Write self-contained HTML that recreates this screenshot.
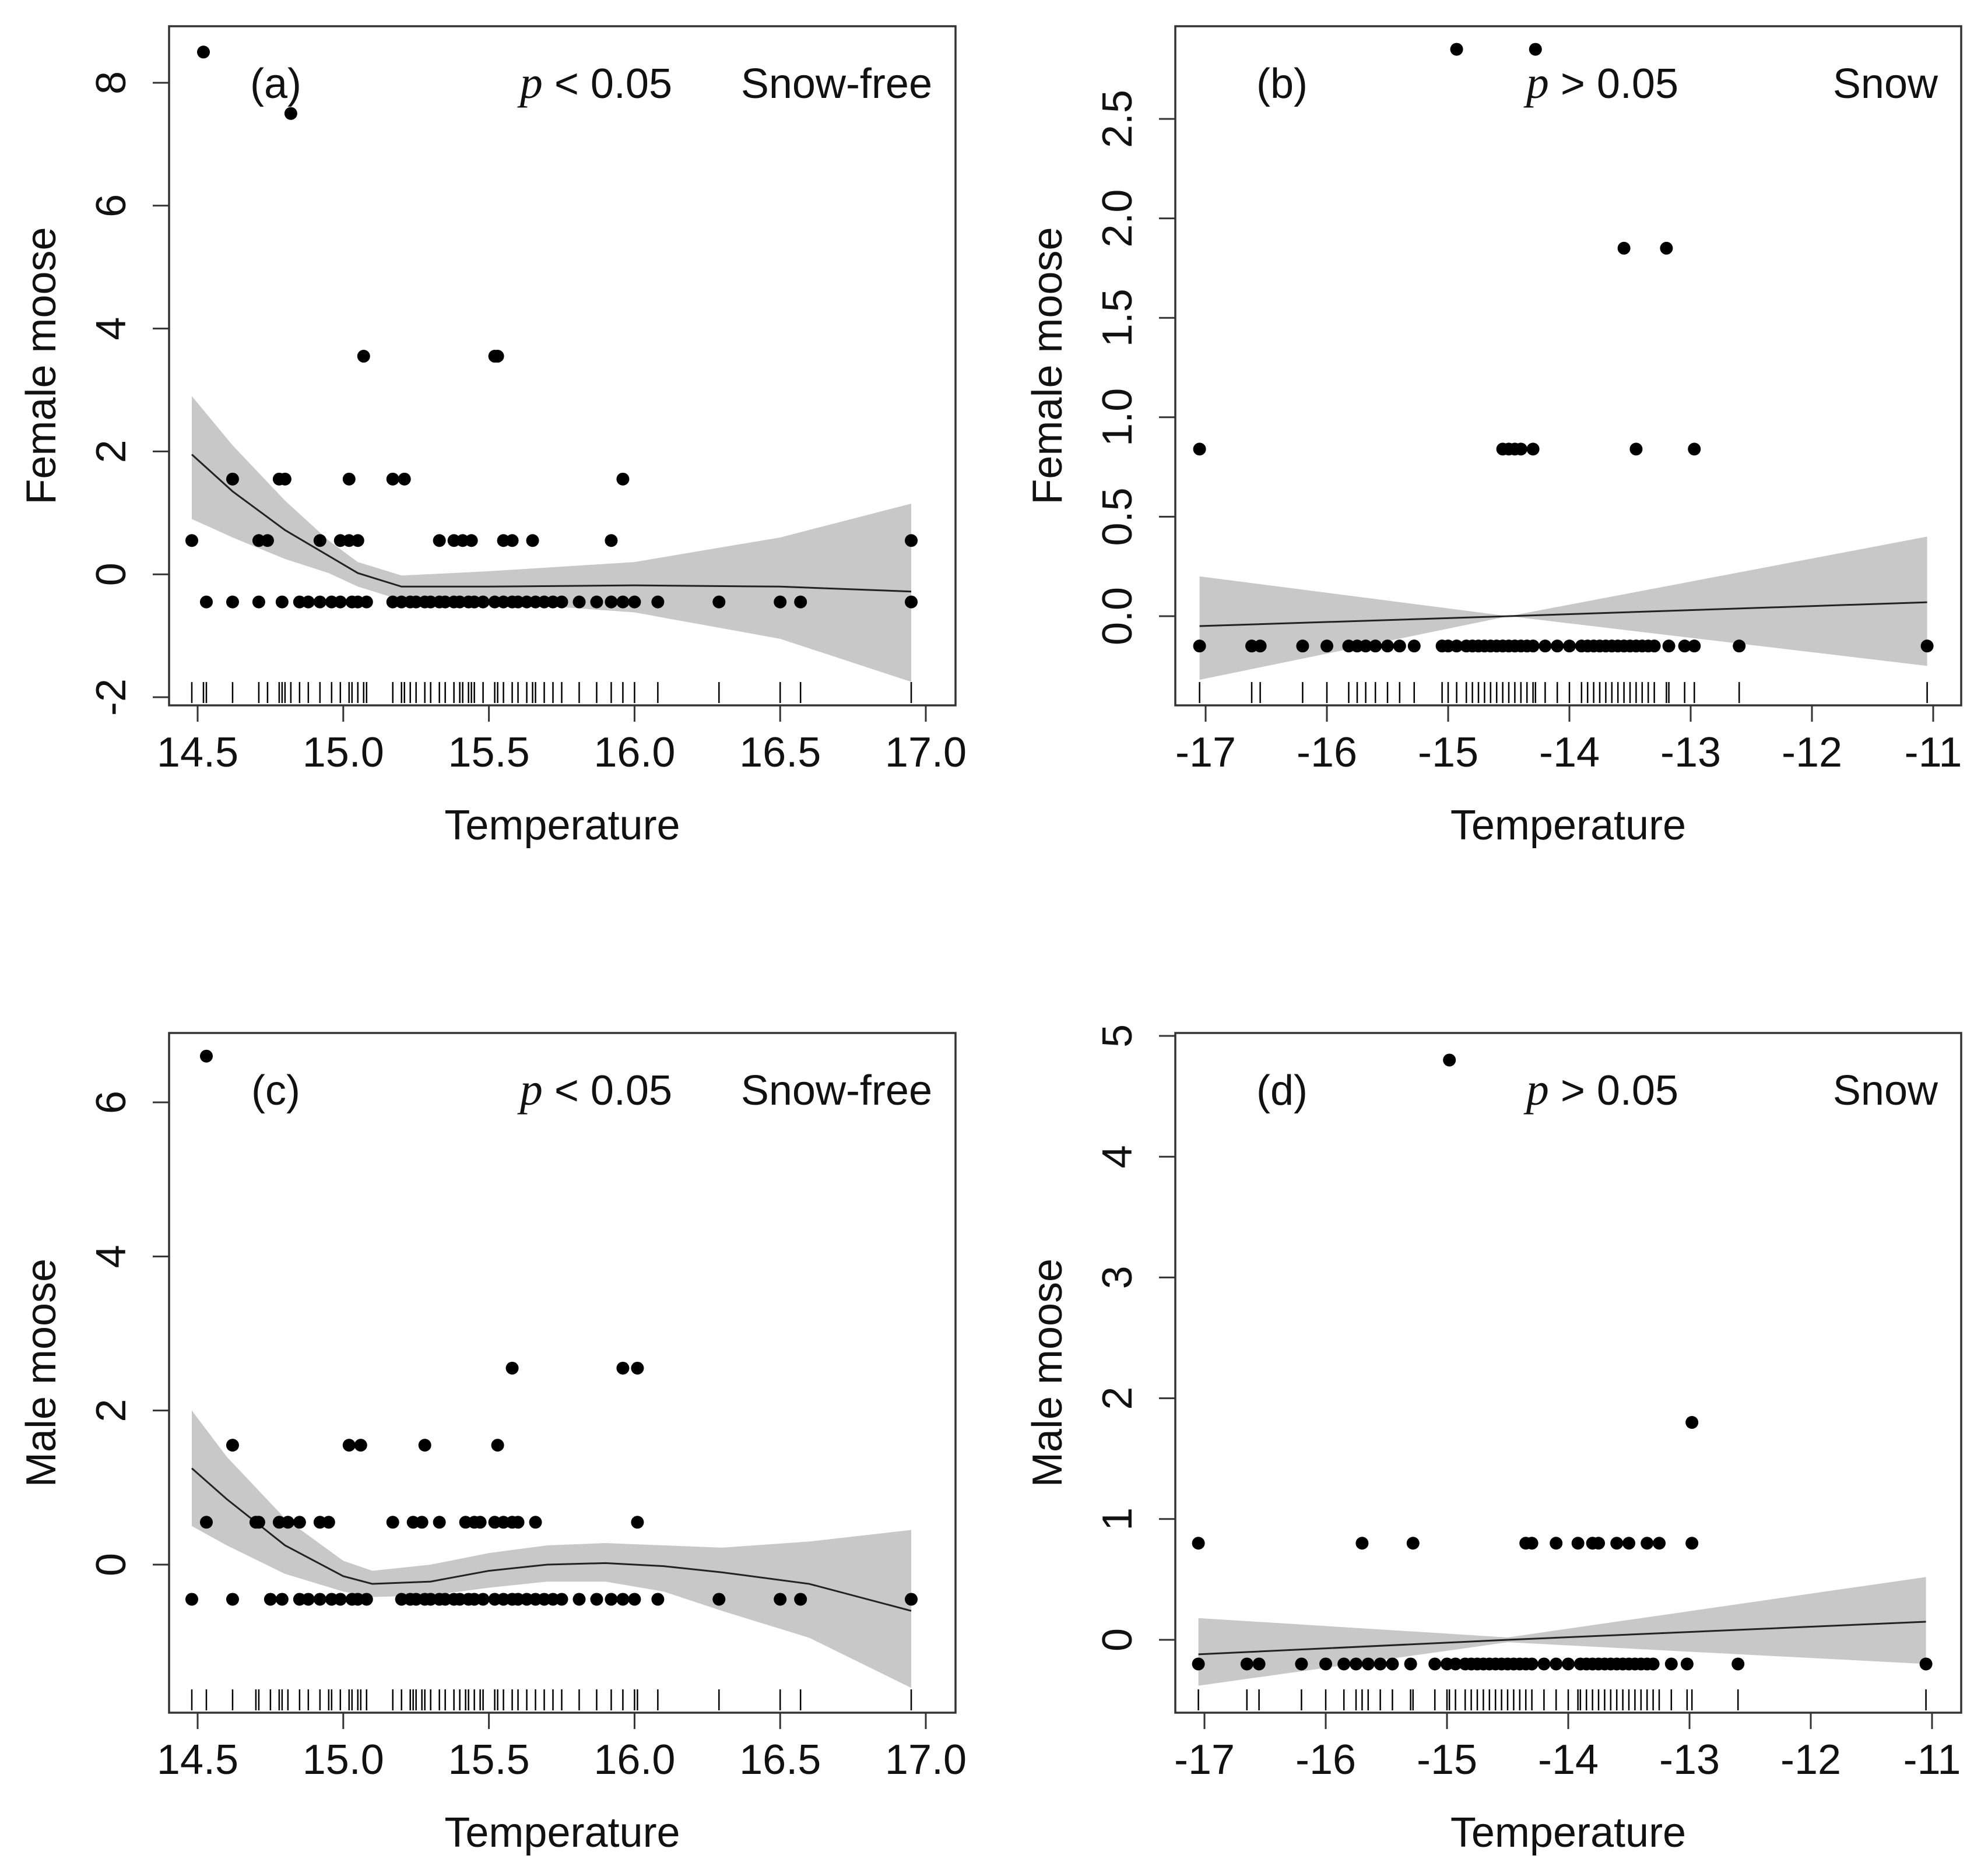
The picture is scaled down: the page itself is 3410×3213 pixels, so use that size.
<!DOCTYPE html>
<html><head><meta charset="utf-8"><style>
html,body{margin:0;padding:0;background:#fff}
svg{display:block}
text{font-family:"Liberation Sans",Arial,sans-serif;fill:#111}
</style></head><body>
<svg id="fig" width="3410" height="3213" viewBox="0 0 3410 3213" xmlns="http://www.w3.org/2000/svg"></svg>
<script>
// ---------- data ----------
const aHigh = [[14.52,8.5],[14.82,7.5],[15.07,3.55],[15.52,3.55],[15.53,3.55]];
const aMidX15 = [14.62,14.78,14.80,15.02,15.17,15.21,15.96];
const aMidX05 = [14.48,14.71,14.74,14.92,14.99,15.02,15.05,15.33,15.38,15.41,15.44,15.55,15.58,15.65,15.92,16.95];
const aLowX = [14.53,14.62,14.71,14.79,14.85,14.88,14.92,14.96,14.99,15.03,15.05,15.08,15.17,15.2,15.23,15.25,15.28,15.3,15.33,15.35,15.38,15.4,15.43,15.45,15.48,15.52,15.55,15.58,15.6,15.63,15.66,15.69,15.72,15.75,15.81,15.87,15.92,15.96,16.0,16.08,16.29,16.5,16.57,16.95];
const aFitX = [14.48,14.62,14.8,14.95,15.05,15.2,15.5,16.0,16.5,16.95];
const aFitY = [1.95,1.35,0.72,0.3,0.02,-0.2,-0.2,-0.18,-0.2,-0.28];
const aUpY  = [2.9,2.1,1.2,0.55,0.2,-0.02,0.05,0.2,0.6,1.15];
const aLoY  = [0.9,0.6,0.25,0.02,-0.2,-0.42,-0.45,-0.62,-1.05,-1.75];

const bHigh = [[-14.93,2.85],[-14.28,2.85],[-13.55,1.85],[-13.2,1.85],[-17.05,0.84],[-14.55,0.84],[-14.5,0.84],[-14.45,0.84],[-14.4,0.84],[-14.3,0.84],[-13.45,0.84],[-12.97,0.84]];
const bLowX = [-17.05,-16.62,-16.55,-16.2,-16.0,-15.82,-15.75,-15.68,-15.6,-15.5,-15.4,-15.28,-15.05,-15.0,-14.93,-14.85,-14.8,-14.75,-14.7,-14.65,-14.6,-14.55,-14.5,-14.45,-14.4,-14.35,-14.3,-14.2,-14.1,-14.0,-13.9,-13.85,-13.8,-13.75,-13.7,-13.65,-13.6,-13.55,-13.5,-13.45,-13.4,-13.35,-13.3,-13.18,-13.05,-12.97,-12.6,-11.05];
const bFitX = [-17.05,-14.5,-11.05];
const bFitY = [-0.05,0.0,0.07];
const bUpY  = [0.2,0.0,0.4];
const bLoY  = [-0.32,0.0,-0.25];

const cPts = [[14.53,6.6],[15.58,2.55],[15.96,2.55],[16.01,2.55],[14.62,1.55],[15.02,1.55],[15.06,1.55],[15.28,1.55],[15.53,1.55]];
const cMidX = [14.53,14.7,14.71,14.78,14.81,14.85,14.92,14.95,15.17,15.24,15.27,15.33,15.42,15.45,15.47,15.52,15.55,15.58,15.6,15.66,16.01];
const cLowX = [14.48,14.62,14.75,14.79,14.85,14.88,14.92,14.96,14.99,15.03,15.05,15.08,15.2,15.23,15.25,15.28,15.3,15.33,15.35,15.38,15.4,15.43,15.45,15.48,15.52,15.55,15.58,15.6,15.63,15.66,15.69,15.72,15.75,15.81,15.87,15.92,15.96,16.0,16.08,16.29,16.5,16.57,16.95];
const cFitX = [14.48,14.6,14.8,15.0,15.1,15.3,15.5,15.7,15.9,16.1,16.3,16.6,16.95];
const cFitY = [1.25,0.85,0.25,-0.15,-0.25,-0.22,-0.08,0.0,0.02,-0.02,-0.1,-0.25,-0.6];
const cUpY  = [2.0,1.4,0.6,0.05,-0.08,0.0,0.15,0.25,0.28,0.25,0.22,0.3,0.45];
const cLoY  = [0.5,0.25,-0.12,-0.35,-0.42,-0.4,-0.3,-0.22,-0.22,-0.35,-0.6,-0.95,-1.6];

const dHigh = [[-14.98,4.8],[-12.98,1.8],[-17.05,0.8],[-15.7,0.8],[-15.28,0.8],[-14.35,0.8],[-14.3,0.8],[-14.1,0.8],[-13.92,0.8],[-13.8,0.8],[-13.75,0.8],[-13.6,0.8],[-13.5,0.8],[-13.35,0.8],[-13.25,0.8],[-12.98,0.8]];
const dLowX = [-17.05,-16.65,-16.55,-16.2,-16.0,-15.85,-15.75,-15.65,-15.55,-15.45,-15.3,-15.1,-15.0,-14.93,-14.85,-14.8,-14.75,-14.7,-14.65,-14.6,-14.55,-14.5,-14.45,-14.4,-14.35,-14.3,-14.2,-14.1,-14.0,-13.9,-13.85,-13.8,-13.75,-13.7,-13.65,-13.6,-13.55,-13.5,-13.45,-13.4,-13.35,-13.3,-13.15,-13.02,-12.6,-11.05];
const dFitX = [-17.05,-14.5,-11.05];
const dFitY = [-0.12,0.0,0.15];
const dUpY  = [0.18,0.02,0.52];
const dLoY  = [-0.38,-0.02,-0.2];

const tickWarm = ["14.5","15.0","15.5","16.0","16.5","17.0"];
const tickCold = ["-17","-16","-15","-14","-13","-12","-11"];
const yTicksA = ["-2","0","2","4","6","8"];
const yTicksB = ["0.0","0.5","1.0","1.5","2.0","2.5"];
const yTicksC = ["0","2","4","6"];
const yTicksD = ["0","1","2","3","4","5"];

// ---------- drawing ----------
const NS="http://www.w3.org/2000/svg";
const svg=document.getElementById('fig');
function mk(tag,attrs,parent){const e=document.createElementNS(NS,tag);for(const k in attrs)e.setAttribute(k,attrs[k]);(parent||svg).appendChild(e);return e;}

function panel(cfg){
  const g=mk('g',{});
  
  
  const X=v=>cfg.x0px+(v-cfg.x0v)*(cfg.x1px-cfg.x0px)/(cfg.x1v-cfg.x0v);
  const Y=v=>cfg.y0px+(v-cfg.y0v)*(cfg.y1px-cfg.y0px)/(cfg.y1v-cfg.y0v);
  let d='';
  cfg.fitX.forEach((x,i)=>{d+=(i?'L':'M')+X(x)+','+Y(cfg.up[i]);});
  for(let i=cfg.fitX.length-1;i>=0;i--)d+='L'+X(cfg.fitX[i])+','+Y(cfg.lo[i]);
  const band=mk('path',{d:d+'Z',fill:'#c8c8c8',stroke:'none'},g);
  
  
  let ld='';
  cfg.fitX.forEach((x,i)=>{ld+=(i?'L':'M')+X(x)+','+Y(cfg.fit[i]);});
  const line=mk('path',{d:ld,fill:'none',stroke:'#222','stroke-width':3},g);
  
  
  cfg.pts.forEach(p=>{
    const c=mk('circle',{cx:X(p[0]),cy:Y(p[1]),r:11,fill:'#000'},g);
    
    
  });
  const xs=[...new Set(cfg.pts.map(p=>p[0]))];
  xs.forEach(x=>{
    const r=mk('line',{x1:X(x),x2:X(x),y1:cfg.bottom-4,y2:cfg.bottom-40,stroke:'#000','stroke-width':2.5},g);
    
    
  });
  const fr=mk('rect',{x:cfg.left,y:cfg.top,width:cfg.right-cfg.left,height:cfg.bottom-cfg.top,fill:'none',stroke:'#333','stroke-width':3.5},g);
  
  
  cfg.xt.forEach(t=>{
    const x=X(parseFloat(t));
    mk('line',{x1:x,x2:x,y1:cfg.bottom,y2:cfg.bottom+28,stroke:'#333','stroke-width':3},g);
    const tx=mk('text',{x:x,y:cfg.bottom+105,'font-size':72,'text-anchor':'middle'},g);
    tx.textContent=t;
    
    
  });
  cfg.yt.forEach(t=>{
    const y=Y(parseFloat(t));
    mk('line',{x1:cfg.left,x2:cfg.left-28,y1:y,y2:y,stroke:'#333','stroke-width':3},g);
    const tx=mk('text',{x:0,y:0,'font-size':72,'text-anchor':'middle',transform:`translate(${cfg.left-75},${y}) rotate(-90)`},g);
    tx.textContent=t;
    
    
  });
  const xtl=mk('text',{x:(cfg.left+cfg.right)/2,y:cfg.bottom+230,'font-size':72,'text-anchor':'middle'},g);
  xtl.textContent='Temperature';
  
  
  const ytl=mk('text',{x:0,y:0,'font-size':72,'text-anchor':'middle',transform:`translate(${cfg.left-195},${(cfg.top+cfg.bottom)/2}) rotate(-90)`},g);
  ytl.textContent=cfg.ytitle;
  
  
  const ay=cfg.top+123;
  const la=mk('text',{x:cfg.left+183,y:ay,'font-size':72,'text-anchor':'middle'},g);
  la.textContent=cfg.label;
  
  
  const pv=mk('text',{x:cfg.left+863,y:ay,'font-size':72,'text-anchor':'end'},g);
  pv.innerHTML='<tspan font-family="Liberation Serif, serif" font-style="italic" font-size="78">p</tspan> '+cfg.pv;
  
  
  const cd=mk('text',{x:cfg.right-40,y:ay,'font-size':72,'text-anchor':'end'},g);
  cd.textContent=cfg.cond;
  
  
}

const L=290,R=1639,L2=2016,R2=3364;
panel({name:'panel-a',left:L,right:R,top:45,bottom:1210,x0v:14.5,x1v:17.0,x0px:339,x1px:1588,y0v:-2,y1v:8,y0px:1196,y1px:142,
  pts:aHigh.concat(aMidX15.map(x=>[x,1.55]),aMidX05.map(x=>[x,0.55]),aLowX.map(x=>[x,-0.45])),
  fitX:aFitX,fit:aFitY,up:aUpY,lo:aLoY,xt:tickWarm,yt:yTicksA,ytitle:'Female moose',label:'(a)',pv:'< 0.05',cond:'Snow-free'});
panel({name:'panel-b',left:L2,right:R2,top:45,bottom:1210,x0v:-17,x1v:-11,x0px:2068,x1px:3316,y0v:0,y1v:2.5,y0px:1057,y1px:204,
  pts:bHigh.concat(bLowX.map(x=>[x,-0.15])),
  fitX:bFitX,fit:bFitY,up:bUpY,lo:bLoY,xt:tickCold,yt:yTicksB,ytitle:'Female moose',label:'(b)',pv:'> 0.05',cond:'Snow'});
panel({name:'panel-c',left:L,right:R,top:1772,bottom:2938,x0v:14.5,x1v:17.0,x0px:339,x1px:1588,y0v:0,y1v:6,y0px:2684,y1px:1891,
  pts:cPts.concat(cMidX.map(x=>[x,0.55]),cLowX.map(x=>[x,-0.45])),
  fitX:cFitX,fit:cFitY,up:cUpY,lo:cLoY,xt:tickWarm,yt:yTicksC,ytitle:'Male moose',label:'(c)',pv:'< 0.05',cond:'Snow-free'});
panel({name:'panel-d',left:L2,right:R2,top:1772,bottom:2938,x0v:-17,x1v:-11,x0px:2066,x1px:3314,y0v:0,y1v:5,y0px:2813,y1px:1777,
  pts:dHigh.concat(dLowX.map(x=>[x,-0.2])),
  fitX:dFitX,fit:dFitY,up:dUpY,lo:dLoY,xt:tickCold,yt:yTicksD,ytitle:'Male moose',label:'(d)',pv:'> 0.05',cond:'Snow'});
</script>
</body></html>
